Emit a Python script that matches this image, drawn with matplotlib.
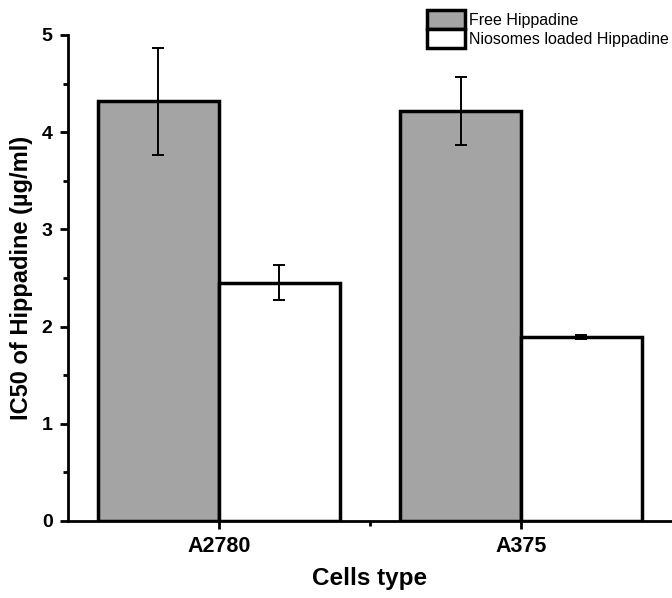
import matplotlib.pyplot as plt
from matplotlib.ticker import MultipleLocator, FixedLocator

plt.rcParams['font.family'] = ['Liberation Sans', 'DejaVu Sans']

# Datos
cell_types = ["A2780", "A375"]
free_vals = [4.32, 4.22]
free_err = [0.55, 0.35]
nio_vals = [2.45, 1.89]
nio_err = [0.18, 0.02]
series_labels = ["Free Hippadine", "Niosomes loaded Hippadine"]

x = [1, 2]
w = 0.4

fig = plt.figure(figsize=(6.72, 5.98), dpi=100)
ax = fig.add_axes([0.101, 0.129, 0.899, 0.8125])

err_kw = dict(elinewidth=1.4, capsize=4.5, capthick=1.4, ecolor="black")
b1 = ax.bar([v - w / 2 for v in x], free_vals, w, yerr=free_err,
            color="#a4a4a4", edgecolor="black", linewidth=2.5,
            error_kw=err_kw, label=series_labels[0])
b2 = ax.bar([v + w / 2 for v in x], nio_vals, w, yerr=nio_err,
            color="white", edgecolor="black", linewidth=2.5,
            error_kw=err_kw, label=series_labels[1])

ax.set_xlim(0.5, 2.5)
ax.set_ylim(0, 5)
ax.set_xticks(x)
ax.set_xticklabels(cell_types, fontsize=15.5, fontweight="bold")
ax.xaxis.set_minor_locator(FixedLocator([1.5]))
ax.yaxis.set_major_locator(MultipleLocator(1))
ax.yaxis.set_minor_locator(MultipleLocator(0.5))
for lab in ax.get_yticklabels():
    lab.set_fontweight("bold")
    lab.set_fontsize(14)

ax.tick_params(which="major", direction="out", length=6, width=2, pad=5)
ax.tick_params(which="minor", direction="out", length=3.5, width=2)
ax.spines["top"].set_visible(False)
ax.spines["right"].set_visible(False)
ax.spines["left"].set_linewidth(2)
ax.spines["bottom"].set_linewidth(2)

ax.set_xlabel("Cells type", fontsize=17.5, fontweight="bold", labelpad=7)
ax.set_ylabel("IC50 of Hippadine (µg/ml)", fontsize=17, fontweight="bold", labelpad=6)

# Leyenda arriba a la derecha
fig.legend(handles=[b1, b2], labels=series_labels, loc="upper left",
           bbox_to_anchor=(427 / 672, 1 - 10 / 598), frameon=False,
           fontsize=11.5, handlelength=2.35, handleheight=1.45,
           handletextpad=0.3, labelspacing=0.0, borderpad=0, borderaxespad=0)

fig.savefig("out.png", dpi=100)
